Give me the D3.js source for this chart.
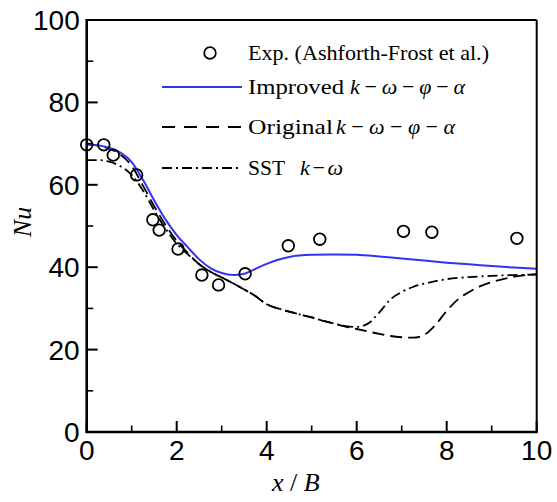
<!DOCTYPE html>
<html>
<head>
<meta charset="utf-8">
<script src="https://cdn.jsdelivr.net/npm/d3@7"></script>
<style>
  html, body { margin: 0; padding: 0; background: #fff; }
  svg { display: block; }
</style>
</head>
<body>
<svg id="chart" width="557" height="502"></svg>
<script>
// Stagnation-region Nusselt number distribution along x/B

// Experimental points (Ashforth-Frost et al.)
const expX  = [0.0, 0.38, 0.59, 1.11, 1.47, 1.61, 2.03, 2.56, 2.93, 3.52, 4.48, 5.18, 7.04, 7.67, 9.56];
const expNu = [69.7, 69.7, 67.2, 62.4, 51.5, 49.0, 44.4, 38.1, 35.7, 38.4, 45.2, 46.8, 48.7, 48.5, 47.0];

// Improved k-ω-φ-α model
const impX  = [0, 0.25, 0.5, 0.75, 1.0, 1.25, 1.5, 1.75, 2.0, 2.25, 2.5, 2.75, 3.0, 3.25, 3.5, 3.75, 4.0, 4.25, 4.5, 5.0, 5.5, 6.0, 6.5, 7.0, 7.5, 8.0, 8.5, 9.0, 9.5, 10.0];
const impNu = [69.8, 69.6, 69.0, 67.8, 65.5, 61.2, 56.2, 51.6, 47.8, 44.8, 41.9, 39.8, 38.6, 38.1, 38.4, 39.6, 40.8, 41.8, 42.5, 43.0, 43.1, 43.0, 42.6, 42.1, 41.6, 41.1, 40.7, 40.3, 39.9, 39.6];

// Original k-ω-φ-α model
const origX  = [0, 0.25, 0.5, 0.75, 1.0, 1.25, 1.5, 1.75, 2.0, 2.25, 2.5, 2.75, 3.0, 3.25, 3.5, 3.75, 4.0, 4.25, 4.5, 4.75, 5.0, 5.25, 5.5, 5.75, 6.0, 6.25, 6.5, 6.75, 7.0, 7.25, 7.5, 7.75, 8.0, 8.25, 8.5, 8.75, 9.0, 9.25, 9.5, 9.75, 10.0];
const origNu = [69.8, 69.5, 68.8, 67.3, 64.6, 59.8, 54.8, 50.3, 46.4, 43.4, 40.7, 38.9, 37.5, 36.1, 34.6, 33.0, 31.0, 30.0, 29.2, 28.5, 27.8, 27.0, 26.3, 25.6, 25.0, 24.4, 23.8, 23.3, 23.0, 22.9, 23.6, 26.0, 29.4, 32.2, 34.0, 35.4, 36.4, 37.1, 37.7, 38.1, 38.3];

// SST k-ω model
const sstX  = [0, 0.25, 0.5, 0.75, 1.0, 1.25, 1.5, 1.75, 2.0, 2.25, 2.5, 2.75, 3.0, 3.25, 3.5, 3.75, 4.0, 4.25, 4.5, 4.75, 5.0, 5.25, 5.5, 5.75, 6.0, 6.25, 6.5, 6.75, 7.0, 7.25, 7.5, 7.75, 8.0, 8.5, 9.0, 9.5, 10.0];
const sstNu = [66.0, 66.0, 65.6, 64.5, 62.4, 58.6, 53.8, 49.4, 45.7, 43.1, 40.7, 38.9, 37.5, 36.1, 34.6, 33.0, 31.0, 30.0, 29.2, 28.5, 27.8, 27.0, 26.3, 25.7, 25.5, 26.3, 29.0, 32.2, 34.0, 35.2, 36.0, 36.6, 37.1, 37.6, 37.9, 38.1, 38.2];

// Axis ticks
const xMajorTicks = [0, 2, 4, 6, 8, 10];
const xMinorTicks = [1, 3, 5, 7, 9];
const yMajorTicks = [0, 20, 40, 60, 80, 100];
const yMinorTicks = [10, 30, 50, 70, 90];

const legendLabels = ["Exp. (Ashforth-Frost et al.)", "Improved", "Original", "SST"];

const svg = d3.select("#chart");
const plot = { left: 86.7, right: 536.7, top: 20, bottom: 432 };

const x = d3.scaleLinear().domain([0, 10]).range([plot.left, plot.right]);
const y = d3.scaleLinear().domain([0, 100]).range([plot.bottom, plot.top]);

const BLUE = "#3434f0";
const sansFont = "'Liberation Sans', Arial, sans-serif";
const serifFont = "'Liberation Serif', 'Times New Roman', serif";

// Curves
const line = d3.line().x(d => x(d[0])).y(d => y(d[1])).curve(d3.curveMonotoneX);
const pairs = (xs, ys) => xs.map((v, i) => [v, ys[i]]);

const curves = svg.append("g");
curves.append("path")
  .attr("d", line(pairs(origX, origNu)))
  .attr("fill", "none").attr("stroke", "#000").attr("stroke-width", 1.8)
  .attr("stroke-dasharray", "12,6");
curves.append("path")
  .attr("d", line(pairs(sstX, sstNu)))
  .attr("fill", "none").attr("stroke", "#000").attr("stroke-width", 1.8)
  .attr("stroke-dasharray", "10,4,2,4");
curves.append("path")
  .attr("d", line(pairs(impX, impNu)))
  .attr("fill", "none").attr("stroke", BLUE).attr("stroke-width", 2);

// Experimental markers
svg.append("g").selectAll("circle")
  .data(pairs(expX, expNu))
  .join("circle")
  .attr("cx", d => x(d[0])).attr("cy", d => y(d[1]))
  .attr("r", 5.8)
  .attr("fill", "none").attr("stroke", "#000").attr("stroke-width", 1.8);

// Frame: top and right edges
svg.append("line").attr("x1", plot.left).attr("x2", plot.right).attr("y1", plot.top).attr("y2", plot.top)
  .attr("stroke", "#000").attr("stroke-width", 2);
svg.append("line").attr("x1", plot.right).attr("x2", plot.right).attr("y1", plot.top).attr("y2", plot.bottom)
  .attr("stroke", "#000").attr("stroke-width", 2);

// Bottom axis with inward ticks
const xAxis = svg.append("g").attr("transform", `translate(0,${plot.bottom})`);
xAxis.append("line").attr("x1", plot.left - 1).attr("x2", plot.right + 1)
  .attr("stroke", "#000").attr("stroke-width", 2.6);
xAxis.selectAll(".maj").data(xMajorTicks).join("line")
  .attr("x1", d => x(d)).attr("x2", d => x(d)).attr("y1", 0).attr("y2", -11)
  .attr("stroke", "#000").attr("stroke-width", 2);
xAxis.selectAll(".min").data(xMinorTicks).join("line")
  .attr("x1", d => x(d)).attr("x2", d => x(d)).attr("y1", 0).attr("y2", -6.5)
  .attr("stroke", "#000").attr("stroke-width", 1.6);
xAxis.selectAll("text").data(xMajorTicks).join("text")
  .attr("x", d => x(d)).attr("y", 28)
  .attr("text-anchor", "middle")
  .attr("font-family", sansFont).attr("font-size", 28)
  .text(d => d);

// Left axis with inward ticks
const yAxis = svg.append("g").attr("transform", `translate(${plot.left},0)`);
yAxis.append("line").attr("y1", plot.top - 1).attr("y2", plot.bottom + 1)
  .attr("stroke", "#000").attr("stroke-width", 2.6);
yAxis.selectAll(".maj").data(yMajorTicks).join("line")
  .attr("y1", d => y(d)).attr("y2", d => y(d)).attr("x1", 0).attr("x2", 11)
  .attr("stroke", "#000").attr("stroke-width", 2);
yAxis.selectAll(".min").data(yMinorTicks).join("line")
  .attr("y1", d => y(d)).attr("y2", d => y(d)).attr("x1", 0).attr("x2", 6.5)
  .attr("stroke", "#000").attr("stroke-width", 1.6);
yAxis.selectAll("text").data(yMajorTicks).join("text")
  .attr("x", -7).attr("y", d => y(d) + 10)
  .attr("text-anchor", "end")
  .attr("font-family", sansFont).attr("font-size", 28)
  .text(d => d);

// Axis titles
const xTitle = svg.append("text")
  .attr("x", 272).attr("y", 491)
  .attr("font-family", serifFont).attr("font-size", 26);
xTitle.append("tspan").attr("font-style", "italic").text("x");
xTitle.append("tspan").text(" / ");
xTitle.append("tspan").attr("font-style", "italic").text("B");

svg.append("text")
  .attr("transform", "translate(31,222) rotate(-90)")
  .attr("text-anchor", "middle")
  .attr("font-family", serifFont).attr("font-size", 26).attr("font-style", "italic")
  .attr("fill", "#000")
  .text("Nu");

// Legend
const legend = svg.append("g").attr("font-family", serifFont).attr("font-size", 22);
const symX0 = 162, symX1 = 242, textX = 248;
const rowY = [53, 87, 127, 168];

legend.append("circle").attr("cx", 210).attr("cy", rowY[0]).attr("r", 5.8)
  .attr("fill", "none").attr("stroke", "#000").attr("stroke-width", 1.8);
legend.append("line").attr("x1", symX0).attr("x2", symX1).attr("y1", rowY[1]).attr("y2", rowY[1])
  .attr("stroke", BLUE).attr("stroke-width", 2);
legend.append("line").attr("x1", symX0).attr("x2", symX1).attr("y1", rowY[2]).attr("y2", rowY[2])
  .attr("stroke", "#000").attr("stroke-width", 1.8).attr("stroke-dasharray", "13,9");
legend.append("line").attr("x1", symX0).attr("x2", symX1).attr("y1", rowY[3]).attr("y2", rowY[3])
  .attr("stroke", "#000").attr("stroke-width", 1.8).attr("stroke-dasharray", "10,4,2,4");

// Plain label word, stretched to its slot width
function word(txt, x0, yb, w) {
  legend.append("text").attr("x", x0).attr("y", yb)
    .attr("textLength", w).attr("lengthAdjust", "spacingAndGlyphs")
    .text(txt);
}
// Italic symbols joined by spaced minus signs, spread over the slot width
function math(symbols, x0, yb, w) {
  const t = legend.append("text").attr("x", x0).attr("y", yb)
    .attr("textLength", w).attr("lengthAdjust", "spacing");
  symbols.forEach((s, i) => {
    if (i > 0) t.append("tspan").text(" − ");
    t.append("tspan").attr("font-style", "italic").text(s);
  });
}
const kwpa = ["k", "ω", "φ", "α"];

word(legendLabels[0], textX, rowY[0] + 7, 241);

word(legendLabels[1], textX, rowY[1] + 7, 96);
math(kwpa, 350, rowY[1] + 7, 115);

word(legendLabels[2], textX, rowY[2] + 7, 85);
math(kwpa, 336, rowY[2] + 7, 119);

word(legendLabels[3], textX, rowY[3] + 7, 37);
math(["k", "ω"], 300, rowY[3] + 7, 43);
</script>
</body>
</html>
